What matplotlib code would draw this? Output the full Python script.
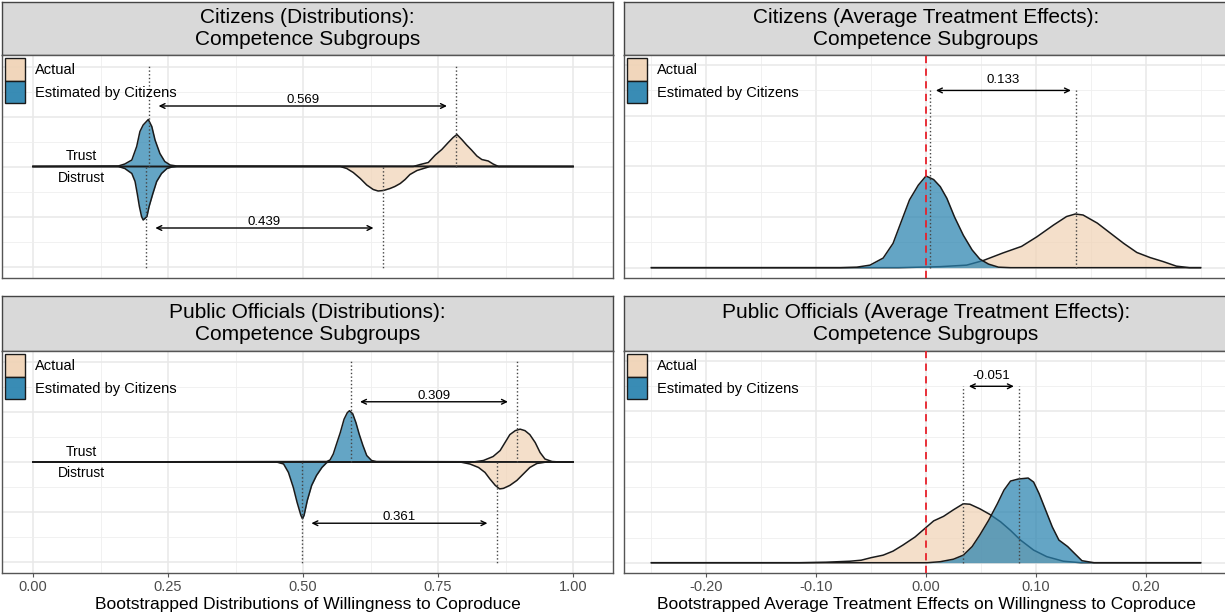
import numpy as np
import matplotlib
matplotlib.use("Agg")
import matplotlib.pyplot as plt
from matplotlib.patches import Patch
from matplotlib.colors import to_rgba

plt.rcParams['font.family'] = ['Liberation Sans', 'DejaVu Sans']

ACTUAL_FILL = '#F0D3B6'
ESTIMATE_FILL = '#2882AF'
FILL_ALPHA = 0.72
OUTLINE = '#1A1A1A'

# ---- citizens, bootstrapped distributions (trust drawn up, distrust drawn down)
cit_trust_est_x = [0.158, 0.170, 0.183, 0.192, 0.198, 0.204, 0.2135, 0.220, 0.226, 0.235, 0.244, 0.254, 0.266]
cit_trust_est_y = [0.01, 0.05, 0.13, 0.40, 0.70, 0.83, 0.94, 0.80, 0.53, 0.26, 0.10, 0.03, 0.01]
cit_distrust_est_x = [0.158, 0.170, 0.183, 0.189, 0.193, 0.197, 0.201, 0.204, 0.211, 0.215, 0.222, 0.229, 0.238, 0.248, 0.257, 0.266]
cit_distrust_est_y = [0.0, 0.04, 0.14, 0.30, 0.54, 0.80, 1.00, 1.07, 1.00, 0.80, 0.54, 0.30, 0.14, 0.04, 0.01, 0.0]
cit_trust_act_x = [0.704, 0.717, 0.732, 0.745, 0.757, 0.769, 0.778, 0.785, 0.794, 0.803, 0.812, 0.822, 0.831, 0.843, 0.852, 0.862]
cit_trust_act_y = [0.0, 0.04, 0.08, 0.23, 0.34, 0.48, 0.58, 0.64, 0.54, 0.43, 0.33, 0.21, 0.14, 0.11, 0.05, 0.0]
cit_distrust_act_x = [0.569, 0.581, 0.593, 0.606, 0.618, 0.630, 0.639, 0.649, 0.661, 0.670, 0.680, 0.689, 0.698, 0.711, 0.723, 0.735]
cit_distrust_act_y = [0.0, 0.04, 0.12, 0.24, 0.37, 0.46, 0.49, 0.48, 0.44, 0.40, 0.34, 0.26, 0.16, 0.08, 0.04, 0.0]
cit_trust_means = [0.215, 0.784]      # estimated, actual
cit_distrust_means = [0.209, 0.648]

# ---- public officials, bootstrapped distributions
off_trust_est_x = [0.544, 0.550, 0.556, 0.562, 0.569, 0.576, 0.582, 0.586, 0.592, 0.598, 0.604, 0.611, 0.618, 0.627, 0.636]
off_trust_est_y = [0.01, 0.04, 0.16, 0.36, 0.59, 0.86, 0.99, 1.03, 0.97, 0.79, 0.56, 0.33, 0.13, 0.03, 0.01]
off_distrust_est_x = [0.451, 0.464, 0.473, 0.482, 0.489, 0.496, 0.499, 0.502, 0.508, 0.516, 0.525, 0.535, 0.544, 0.550]
off_distrust_est_y = [0.0, 0.04, 0.21, 0.51, 0.81, 1.07, 1.14, 1.07, 0.77, 0.47, 0.27, 0.11, 0.01, 0.0]
off_trust_act_x = [0.815, 0.834, 0.852, 0.865, 0.874, 0.883, 0.893, 0.902, 0.911, 0.920, 0.930, 0.939, 0.948, 0.961, 0.976]
off_trust_act_y = [0.0, 0.03, 0.11, 0.23, 0.39, 0.55, 0.63, 0.66, 0.63, 0.55, 0.39, 0.19, 0.06, 0.01, 0.0]
off_distrust_act_x = [0.791, 0.809, 0.825, 0.837, 0.846, 0.856, 0.864, 0.871, 0.883, 0.896, 0.908, 0.920, 0.933, 0.951]
off_distrust_act_y = [0.0, 0.04, 0.11, 0.21, 0.34, 0.47, 0.54, 0.53, 0.47, 0.37, 0.24, 0.11, 0.03, 0.0]
off_trust_means = [0.588, 0.897]
off_distrust_means = [0.498, 0.859]

# ---- average treatment effects
cit_ate_est_x = [-0.078, -0.063, -0.051, -0.039, -0.030, -0.022, -0.015, -0.007, 0.0, 0.007, 0.013, 0.019, 0.026, 0.034, 0.042, 0.049, 0.057, 0.066, 0.077]
cit_ate_est_y = [0.0, 0.01, 0.05, 0.19, 0.48, 0.94, 1.34, 1.63, 1.81, 1.74, 1.60, 1.37, 1.00, 0.64, 0.35, 0.17, 0.07, 0.01, 0.0]
cit_ate_act_x = [-0.025, 0.013, 0.037, 0.052, 0.070, 0.087, 0.101, 0.116, 0.128, 0.136, 0.143, 0.156, 0.168, 0.180, 0.192, 0.204, 0.216, 0.228, 0.240]
cit_ate_act_y = [0.0, 0.02, 0.05, 0.14, 0.29, 0.42, 0.61, 0.84, 1.01, 1.06, 1.04, 0.88, 0.68, 0.48, 0.30, 0.20, 0.12, 0.03, 0.0]
cit_ate_means = [0.004, 0.137]

off_ate_act_x = [-0.115, -0.091, -0.069, -0.059, -0.050, -0.039, -0.030, -0.021, -0.010, -0.001, 0.007, 0.016, 0.025, 0.034, 0.040, 0.049, 0.058, 0.068, 0.077, 0.086, 0.098, 0.110, 0.125, 0.141]
off_ate_act_y = [0.0, 0.01, 0.03, 0.05, 0.10, 0.15, 0.23, 0.35, 0.51, 0.68, 0.83, 0.92, 1.05, 1.17, 1.16, 1.07, 0.96, 0.81, 0.64, 0.45, 0.25, 0.12, 0.03, 0.0]
off_ate_est_x = [0.001, 0.013, 0.025, 0.034, 0.042, 0.049, 0.057, 0.065, 0.071, 0.077, 0.084, 0.093, 0.098, 0.103, 0.109, 0.115, 0.121, 0.129, 0.135, 0.142, 0.153]
off_ate_est_y = [0.0, 0.02, 0.07, 0.15, 0.32, 0.55, 0.84, 1.17, 1.44, 1.62, 1.66, 1.68, 1.60, 1.37, 1.04, 0.71, 0.45, 0.32, 0.19, 0.04, 0.0]
off_ate_means = [0.085, 0.034]

dist_ticks = [0.0, 0.25, 0.5, 0.75, 1.0]
ate_ticks = [-0.2, -0.1, 0.0, 0.1, 0.2]

W, H = 1225, 613


def box(x0, y0, x1, y1):
    return [x0 / W, 1 - y1 / H, (x1 - x0) / W, (y1 - y0) / H]


def strip(fig, rect, title):
    s = fig.add_axes(box(*rect))
    s.set_facecolor('#D9D9D9')
    s.set_xticks([])
    s.set_yticks([])
    for sp in s.spines.values():
        sp.set_color('#444444')
        sp.set_linewidth(1.0)
    s.text(0.5, 0.5, title, ha='center', va='center', fontsize=15,
           linespacing=1.15, transform=s.transAxes)


def panel(fig, rect, xlim, ylim, xmajor, xminor, ymajor, yminor):
    ax = fig.add_axes(box(*rect))
    ax.set_xlim(*xlim)
    ax.set_ylim(*ylim)
    for v in xminor:
        ax.axvline(v, color='#EFEFEF', lw=0.6, zorder=0)
    for v in xmajor:
        ax.axvline(v, color='#E8E8E8', lw=1.1, zorder=0)
    for v in yminor:
        ax.axhline(v, color='#EFEFEF', lw=0.6, zorder=0)
    for v in ymajor:
        ax.axhline(v, color='#E8E8E8', lw=1.1, zorder=0)
    ax.set_yticks([])
    ax.set_xticks([])
    for sp in ax.spines.values():
        sp.set_color('#555555')
        sp.set_linewidth(1.0)
    return ax


def density(ax, x, y, color, lo, hi, sign=1, z=2):
    xs = np.r_[lo, x, hi]
    ys = np.r_[0.0, y, 0.0] * sign
    ax.fill_between(xs, 0, ys, color=color, alpha=FILL_ALPHA, lw=0, zorder=z)
    ax.plot(xs, ys, color=OUTLINE, lw=1.1, zorder=z + 0.5, solid_joinstyle='round')


def gap_arrow(ax, est, act, y, gap, dy):
    lo, hi = sorted([est, act])
    ax.annotate('', xy=(hi - gap, y), xytext=(lo + gap, y),
                arrowprops=dict(arrowstyle='<->,head_length=0.35,head_width=0.17',
                                color='black', lw=1.0, shrinkA=0, shrinkB=0), zorder=6)
    ax.text((lo + hi) / 2, y + dy, '%.3f' % (act - est), ha='center', va='center',
            fontsize=9.5, zorder=7)


def legend(ax):
    leg_alpha = 1 - (1 - FILL_ALPHA) ** 2
    handles = [Patch(facecolor=to_rgba(ACTUAL_FILL, leg_alpha), edgecolor=OUTLINE, lw=1.0),
               Patch(facecolor=to_rgba(ESTIMATE_FILL, leg_alpha), edgecolor=OUTLINE, lw=1.0)]
    ax.legend(handles, ['Actual', 'Estimated by Citizens'], loc='upper left', frameon=False,
              fontsize=10.5, handlelength=1.35, handleheight=2.0, labelspacing=0.0,
              handletextpad=0.7, borderaxespad=0.1, borderpad=0.12)


def dist_panel(fig, rect, trust, distrust, t_means, d_means):
    ax = panel(fig, rect, (-0.0574, 1.074), (-2.23, 2.23),
               dist_ticks, [0.125, 0.375, 0.625, 0.875],
               [-2, -1, 0, 1, 2], [-1.5, -0.5, 0.5, 1.5])
    (te_x, te_y, ta_x, ta_y) = trust
    (de_x, de_y, da_x, da_y) = distrust
    density(ax, ta_x, ta_y, ACTUAL_FILL, 0, 1, 1)
    density(ax, da_x, da_y, ACTUAL_FILL, 0, 1, -1)
    density(ax, te_x, te_y, ESTIMATE_FILL, 0, 1, 1)
    density(ax, de_x, de_y, ESTIMATE_FILL, 0, 1, -1)
    for m in t_means:
        ax.plot([m, m], [0, 2.03], color='#444444', ls=':', lw=1.0, zorder=5)
    for m in d_means:
        ax.plot([m, m], [0, -2.03], color='#444444', ls=':', lw=1.0, zorder=5)
    gap_arrow(ax, t_means[0], t_means[1], 1.21, 0.0175, 0.12)
    gap_arrow(ax, d_means[0], d_means[1], -1.23, 0.0175, 0.12)
    ax.text(0.09, 0.2, 'Trust', ha='center', va='center', fontsize=10, zorder=7)
    ax.text(0.09, -0.22, 'Distrust', ha='center', va='center', fontsize=10, zorder=7)
    legend(ax)
    return ax


def ate_panel(fig, rect, est, act, means):
    ax = panel(fig, rect, (-0.275, 0.275), (-0.204, 4.20),
               ate_ticks, [-0.25, -0.15, -0.05, 0.05, 0.15, 0.25],
               [0, 1, 2, 3, 4], [0.5, 1.5, 2.5, 3.5])
    density(ax, act[0], act[1], ACTUAL_FILL, -0.25, 0.25, 1, z=2)
    density(ax, est[0], est[1], ESTIMATE_FILL, -0.25, 0.25, 1, z=3)
    ax.axvline(0, color='#E8212B', ls=(0, (4, 3)), lw=1.3, zorder=5)
    for m in means:
        ax.plot([m, m], [0, 3.5], color='#444444', ls=':', lw=1.0, zorder=5)
    gap_arrow(ax, means[0], means[1], 3.5, 0.005, 0.2)
    legend(ax)
    return ax


fig = plt.figure(figsize=(12.25, 6.13), dpi=100)

strip(fig, (2, 2, 613, 55), 'Citizens (Distributions):\nCompetence Subgroups')
dist_panel(fig, (2, 55, 613, 278),
           (cit_trust_est_x, cit_trust_est_y, cit_trust_act_x, cit_trust_act_y),
           (cit_distrust_est_x, cit_distrust_est_y, cit_distrust_act_x, cit_distrust_act_y),
           cit_trust_means, cit_distrust_means)

strip(fig, (624, 2, 1228, 55), 'Citizens (Average Treatment Effects):\nCompetence Subgroups')
ate_panel(fig, (624, 55, 1228, 278), (cit_ate_est_x, cit_ate_est_y),
          (cit_ate_act_x, cit_ate_act_y), cit_ate_means)

strip(fig, (2, 296, 613, 351), 'Public Officials (Distributions):\nCompetence Subgroups')
ax3 = dist_panel(fig, (2, 351, 613, 573),
                 (off_trust_est_x, off_trust_est_y, off_trust_act_x, off_trust_act_y),
                 (off_distrust_est_x, off_distrust_est_y, off_distrust_act_x, off_distrust_act_y),
                 off_trust_means, off_distrust_means)

strip(fig, (624, 296, 1228, 351), 'Public Officials (Average Treatment Effects):\nCompetence Subgroups')
ax4 = ate_panel(fig, (624, 351, 1228, 573), (off_ate_est_x, off_ate_est_y),
                (off_ate_act_x, off_ate_act_y), off_ate_means)

ax3.set_xticks(dist_ticks)
ax3.set_xticklabels(['%.2f' % t for t in dist_ticks])
ax3.set_xlabel('Bootstrapped Distributions of Willingness to Coproduce', fontsize=12.5, labelpad=2)
ax4.set_xticks(ate_ticks)
ax4.set_xticklabels(['%.2f' % t for t in ate_ticks])
ax4.set_xlabel('Bootstrapped Average Treatment Effects on Willingness to Coproduce', fontsize=12.5, labelpad=2)
for ax in (ax3, ax4):
    ax.tick_params(axis='x', length=3, width=0.8, color='#555555', pad=2,
                   labelsize=10.5, labelcolor='#4D4D4D')

fig.savefig('out.png', dpi=100)
